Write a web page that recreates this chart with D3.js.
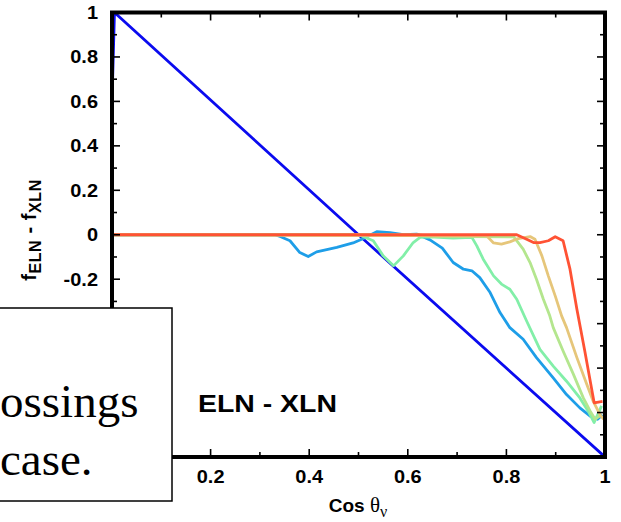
<!DOCTYPE html>
<html>
<head>
<meta charset="utf-8">
<script src="https://cdn.jsdelivr.net/npm/d3@7"></script>
<style>
  body { margin: 0; background: #fff; }
  svg { display: block; }
</style>
</head>
<body>
<div id="chart"></div>
<script>
// tick values + labels
const xTicks = [0, 0.2, 0.4, 0.6, 0.8, 1];
const xTickLabels = ["0", "0.2", "0.4", "0.6", "0.8", "1"];
const yTicks = [-1, -0.8, -0.6, -0.4, -0.2, 0, 0.2, 0.4, 0.6, 0.8, 1];
const yTickLabels = ["-1", "-0.8", "-0.6", "-0.4", "-0.2", "0", "0.2", "0.4", "0.6", "0.8", "1"];

// series as [cos theta, f_ELN - f_XLN]
const seriesBlue = [[0, 0.6], [0.005, 1.0], [0.5, 0.0], [1.0, -1.0]];
const seriesSky = [[0, 0], [0.33, 0], [0.341, -0.008], [0.361, -0.027], [0.381, -0.08], [0.398, -0.098],
  [0.415, -0.077], [0.456, -0.057], [0.489, -0.037], [0.51, -0.017], [0.537, 0.014], [0.564, 0.01],
  [0.591, 0.001], [0.618, 0.003], [0.645, -0.023], [0.67, -0.06], [0.692, -0.125], [0.713, -0.155],
  [0.73, -0.162], [0.746, -0.193], [0.767, -0.26], [0.787, -0.35], [0.807, -0.418], [0.834, -0.47],
  [0.861, -0.553], [0.895, -0.644], [0.922, -0.719], [0.949, -0.779], [0.97, -0.816], [0.985, -0.83],
  [0.995, -0.81]];
const seriesMint = [[0, 0], [0.5, 0], [0.53, -0.027], [0.55, -0.095], [0.571, -0.14], [0.591, -0.095],
  [0.611, -0.035], [0.625, -0.012], [0.645, -0.01], [0.692, -0.015], [0.73, -0.012], [0.74, -0.05],
  [0.753, -0.11], [0.774, -0.185], [0.79, -0.222], [0.807, -0.245], [0.821, -0.29], [0.841, -0.388],
  [0.868, -0.516], [0.895, -0.591], [0.922, -0.659], [0.949, -0.734], [0.966, -0.794], [0.978, -0.845],
  [0.993, -0.77]];
const seriesLime = [[0, 0], [0.62, 0], [0.65, -0.008], [0.72, -0.008], [0.815, -0.01], [0.834, -0.065],
  [0.848, -0.125], [0.861, -0.2], [0.875, -0.29], [0.888, -0.365], [0.895, -0.418], [0.915, -0.523],
  [0.936, -0.628], [0.956, -0.734], [0.97, -0.794], [0.98, -0.83], [0.993, -0.81]];
const seriesTan = [[0, 0], [0.76, -0.005], [0.774, -0.037], [0.79, -0.042], [0.807, -0.032], [0.824, -0.017],
  [0.848, -0.008], [0.858, -0.02], [0.872, -0.095], [0.885, -0.185], [0.899, -0.275], [0.912, -0.365],
  [0.922, -0.418], [0.943, -0.553], [0.963, -0.673], [0.976, -0.749], [0.99, -0.81], [0.997, -0.83]];
const seriesRed = [[0, 0], [0.821, 0], [0.841, -0.02], [0.855, -0.035], [0.868, -0.035], [0.885, -0.027],
  [0.899, -0.009], [0.915, -0.027], [0.929, -0.155], [0.943, -0.335], [0.959, -0.523], [0.978, -0.756],
  [0.995, -0.75]];

const width = 621, height = 522;
const plotL = 112, plotR = 605, plotT = 12.5, plotB = 457;
// the slide text box that sits over the lower-left corner
const boxR = 172, boxT = 308;

const svg = d3.select("#chart").append("svg")
  .attr("width", width)
  .attr("height", height);

const x = d3.scaleLinear().domain([0, 1]).range([plotL, plotR]);
const y = d3.scaleLinear().domain([-1, 1]).range([plotB, plotT]);

svg.append("clipPath").attr("id", "plotclip")
  .append("rect")
  .attr("x", plotL).attr("y", plotT)
  .attr("width", plotR - plotL).attr("height", plotB - plotT);

const line = d3.line().x(d => x(d[0])).y(d => y(d[1]));

const curves = [
  { data: seriesBlue, color: "#0b0bef" },
  { data: seriesSky, color: "#1e9ee8" },
  { data: seriesMint, color: "#82efa8" },
  { data: seriesLime, color: "#b4e68e" },
  { data: seriesTan, color: "#e6c67a" },
  { data: seriesRed, color: "#ff5234" }
];

svg.append("g").attr("clip-path", "url(#plotclip)")
  .selectAll("path")
  .data(curves)
  .join("path")
  .attr("fill", "none")
  .attr("stroke", d => d.color)
  .attr("stroke-width", 2.8)
  .attr("stroke-linejoin", "round")
  .attr("d", d => line(d.data));

// ticks, inward, on all four sides (major 0.2 / minor 0.1)
const xMinor = d3.range(0, 11).map(i => i / 10);
const yMinor = d3.range(-10, 11).map(i => i / 10);
const isMajor = v => Math.abs(Math.round(v * 5) - v * 5) < 1e-6;

const tickG = svg.append("g").attr("stroke", "#000").attr("stroke-width", 1.6);
xMinor.forEach(v => {
  const len = isMajor(v) ? 8 : 5;
  tickG.append("line").attr("x1", x(v)).attr("x2", x(v)).attr("y1", plotB).attr("y2", plotB - len);
  tickG.append("line").attr("x1", x(v)).attr("x2", x(v)).attr("y1", plotT).attr("y2", plotT + len);
});
yMinor.forEach(v => {
  const len = isMajor(v) ? 8 : 5;
  tickG.append("line").attr("y1", y(v)).attr("y2", y(v)).attr("x1", plotL).attr("x2", plotL + len);
  tickG.append("line").attr("y1", y(v)).attr("y2", y(v)).attr("x1", plotR).attr("x2", plotR - len);
});

// frame
svg.append("rect")
  .attr("x", plotL).attr("y", plotT)
  .attr("width", plotR - plotL).attr("height", plotB - plotT)
  .attr("fill", "none")
  .attr("stroke", "#000")
  .attr("stroke-width", 4);

const labelFont = "'Liberation Sans', Arial, sans-serif";

// tick labels (the ones hidden behind the text box are left out)
const xLab = xTicks.map((v, i) => ({ v, t: xTickLabels[i] })).filter(d => x(d.v) > boxR);
const yLab = yTicks.map((v, i) => ({ v, t: yTickLabels[i] })).filter(d => y(d.v) < boxT);

svg.append("g").selectAll("text")
  .data(xLab)
  .join("text")
  .attr("transform", d => `translate(${x(d.v)},483) scale(1.08,1)`)
  .attr("text-anchor", "middle")
  .attr("font-family", labelFont)
  .attr("font-weight", "bold")
  .attr("font-size", 18.5)
  .text(d => d.t);

svg.append("g").selectAll("text")
  .data(yLab)
  .join("text")
  .attr("transform", d => `translate(98,${y(d.v) + 6.5}) scale(1.08,1)`)
  .attr("text-anchor", "end")
  .attr("font-family", labelFont)
  .attr("font-weight", "bold")
  .attr("font-size", 18.5)
  .text(d => d.t);

// axis titles
const xt = svg.append("text")
  .attr("x", 358)
  .attr("y", 512)
  .attr("text-anchor", "middle")
  .attr("font-family", labelFont)
  .attr("font-weight", "bold")
  .attr("font-size", 19);
xt.append("tspan").text("Cos ");
xt.append("tspan").attr("font-family", "'Liberation Serif', serif").attr("font-weight", "normal").attr("font-size", 21).text("θ");
xt.append("tspan").attr("font-family", "'Liberation Serif', serif").attr("font-weight", "normal").attr("font-size", 16).attr("dy", 5).text("ν");

const yt = svg.append("text")
  .attr("transform", "translate(36,230) rotate(-90)")
  .attr("text-anchor", "middle")
  .attr("font-family", labelFont)
  .attr("font-weight", "bold")
  .attr("letter-spacing", 0.6)
  .attr("font-size", 20);
yt.append("tspan").text("f");
yt.append("tspan").attr("font-size", 16).attr("dy", 5).text("ELN");
yt.append("tspan").attr("dy", -5).text(" - f");
yt.append("tspan").attr("font-size", 16).attr("dy", 5).text("XLN");

svg.append("text")
  .attr("x", 198)
  .attr("y", 411.5)
  .attr("font-family", labelFont)
  .attr("font-weight", "bold")
  .attr("font-size", 23)
  .attr("textLength", 139)
  .attr("lengthAdjust", "spacingAndGlyphs")
  .text("ELN - XLN");

// overlapping slide text box
svg.append("rect")
  .attr("x", -2).attr("y", boxT)
  .attr("width", boxR + 2).attr("height", 193)
  .attr("fill", "#fff")
  .attr("stroke", "#000")
  .attr("stroke-width", 1.5);

svg.append("text")
  .attr("x", 0).attr("y", 416.5)
  .attr("font-family", "'Liberation Serif', 'Times New Roman', serif")
  .attr("font-size", 47)
  .text("ossings");
svg.append("text")
  .attr("x", 0).attr("y", 475)
  .attr("font-family", "'Liberation Serif', 'Times New Roman', serif")
  .attr("font-size", 47)
  .text("case.");
</script>
</body>
</html>
